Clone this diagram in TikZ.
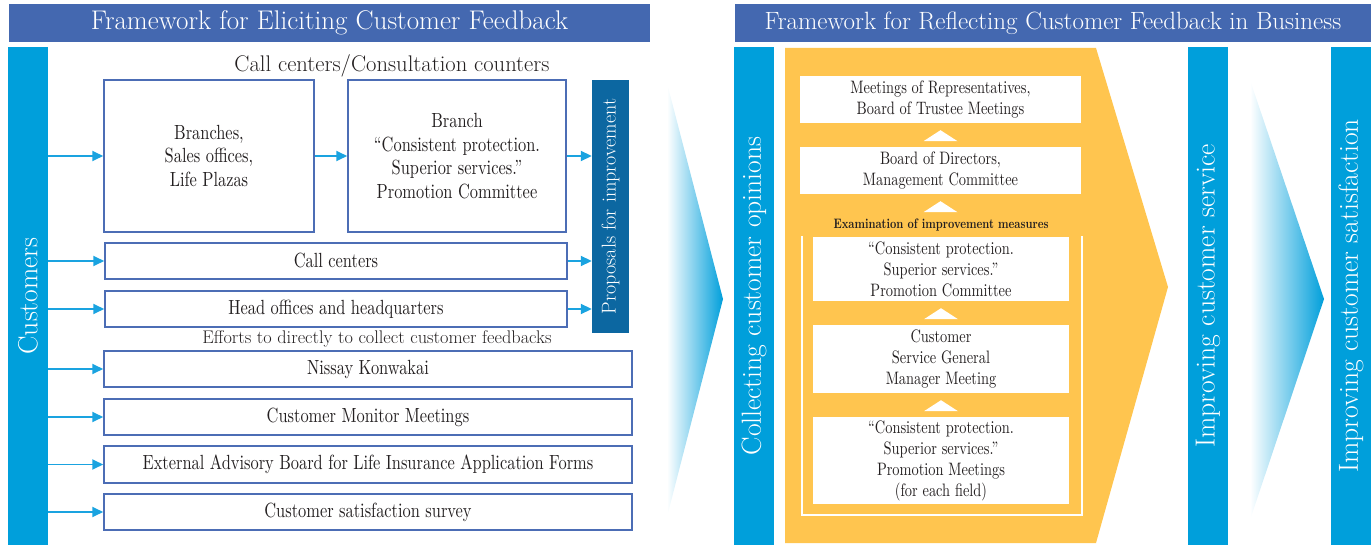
\documentclass[tikz,border=0pt]{standalone}
\usepackage{fontspec}
\usetikzlibrary{arrows.meta,calc}
\newfontfamily\condfont{lmroman10}[Extension=.otf,UprightFont=*-regular,BoldFont=*-bold,FakeStretch=0.8]
\definecolor{headblue}{HTML}{4468B0}
\definecolor{barcyan}{HTML}{009FDB}
\definecolor{propblue}{HTML}{0C67A1}
\definecolor{boxline}{HTML}{4C6DB5}
\definecolor{arrcyan}{HTML}{1AA3E0}
\definecolor{framegold}{HTML}{FFC54F}
\definecolor{ink}{HTML}{231F20}
\tikzset{
  headbar/.style={fill=headblue, text=white, minimum height=38pt, inner sep=0pt},
  sidebar/.style={fill=barcyan, text=white, rotate=90, minimum width=498pt, minimum height=40pt, inner sep=0pt, font=\fontsize{27.6}{32}\selectfont},
  inbox/.style={draw=boxline, line width=1.5pt, fill=white, text=ink, inner sep=0pt, align=center, font=\condfont\fontsize{20.5}{23.5}\selectfont},
  stepbox/.style={fill=white, text=ink, inner sep=0pt, align=center, font=\condfont\fontsize{18}{21}\selectfont},
  feed/.style={-{Triangle[length=11pt,width=10pt]}, line width=1.8pt, arrcyan},
  fade/.style={left color=white, right color=barcyan}
}
\begin{document}
\begin{tikzpicture}[x=1pt,y=-1pt]
    \useasboundingbox (0,0) rectangle (1371,545);

    % eliciting feedback
    \node[headbar, minimum width=641pt, font=\fontsize{27}{31}\selectfont] (headL) at (329.5,23) {Framework for Eliciting Customer Feedback};
    \node[sidebar] (cust) at (28,296) {Customers};
    \node[text=ink, font=\fontsize{22.6}{26}\selectfont] (ccc) at (392,66) {Call centers/Consultation counters};
    \node[inbox, minimum width=210pt, minimum height=152pt] (brn) at (209,156) {Branches,\\Sales offices,\\Life Plazas};
    \node[inbox, minimum width=218pt, minimum height=152pt] (brc) at (457,156) {Branch\\“Consistent protection.\\Superior services.”\\Promotion Committee};
    \node[fill=propblue, text=white, rotate=90, minimum width=253pt, minimum height=37pt, inner sep=0pt, font=\fontsize{20}{23}\selectfont] (prop) at (610.5,206.5) {Proposals for improvement};
    \node[inbox, minimum width=462pt, minimum height=36pt] (cc) at (336,261) {Call centers};
    \node[inbox, minimum width=462pt, minimum height=36pt] (hq) at (336,309) {Head offices and headquarters};
    \node[text=ink, font=\fontsize{18.3}{22}\selectfont] (eff) at (377,339) {Efforts to directly to collect customer feedbacks};
    \node[inbox, minimum width=528pt, minimum height=36pt] (nk) at (368,369) {Nissay Konwakai};
    \node[inbox, minimum width=528pt, minimum height=36pt] (cmm) at (368,417) {Customer Monitor Meetings};
    \node[inbox, minimum width=528pt, minimum height=37pt] (eab) at (368,464.5) {External Advisory Board for Life Insurance Application Forms};
    \node[inbox, minimum width=528pt, minimum height=36pt] (css) at (368,512) {Customer satisfaction survey};

    \foreach \t in {brn,cc,hq,nk,cmm,eab,css}
        \draw[feed] (cust.south |- \t.west) -- (\t.west);
    \draw[feed] (brn.east) -- (brc.west);
    \foreach \t in {brc,cc,hq}
        \draw[feed] (\t.east) -- (prop.north |- \t.east);

    \shade[fade] (667,83) -- (723,299) -- (667,517) -- cycle;

    % reflecting feedback
    \node[headbar, minimum width=636pt, font=\fontsize{25}{29}\selectfont] (headR) at (1053,23) {Framework for Reflecting Customer Feedback in Business};
    \node[sidebar] (coll) at (754,296) {Collecting customer opinions};
    \fill[framegold] (785,48) -- (1096,48) -- (1168,287) -- (1096,543) -- (785,543) -- cycle;
    \node[stepbox, minimum width=281pt, minimum height=47pt] (mtg) at (940.5,99.5) {Meetings of Representatives,\\Board of Trustee Meetings};
    \node[stepbox, minimum width=281pt, minimum height=47pt] (bod) at (940.5,170.5) {Board of Directors,\\Management Committee};
    \node[text=ink, font=\condfont\bfseries\fontsize{13.7}{16}\selectfont] (exam) at (941,225) {Examination of improvement measures};
    \draw[white, line width=1.5pt] (802,236) -- (802,515) -- (1082,515) -- (1082,236);
    \node[stepbox, minimum width=256pt, minimum height=64pt] (pcm) at (941,269) {“Consistent protection.\\Superior services.”\\Promotion Committee};
    \node[stepbox, minimum width=256pt, minimum height=68pt] (csg) at (941,359) {Customer\\Service General\\Manager Meeting};
    \node[stepbox, minimum width=256pt, minimum height=87pt] (pmt) at (941,460.5) {“Consistent protection.\\Superior services.”\\Promotion Meetings\\(for each field)};
    \foreach \b in {mtg,bod,pcm,csg}
        \fill[white] ($(\b.south)+(0,7)$) -- ++(-17,11) -- ++(34,0) -- cycle;

    \shade[fade] (1250,80) -- (1324,299) -- (1250,520) -- cycle;
    \node[sidebar] (svc) at (1208,296) {Improving customer service};
    \node[sidebar] (sat) at (1351,296) {Improving customer satisfaction};
\end{tikzpicture}
\end{document}
